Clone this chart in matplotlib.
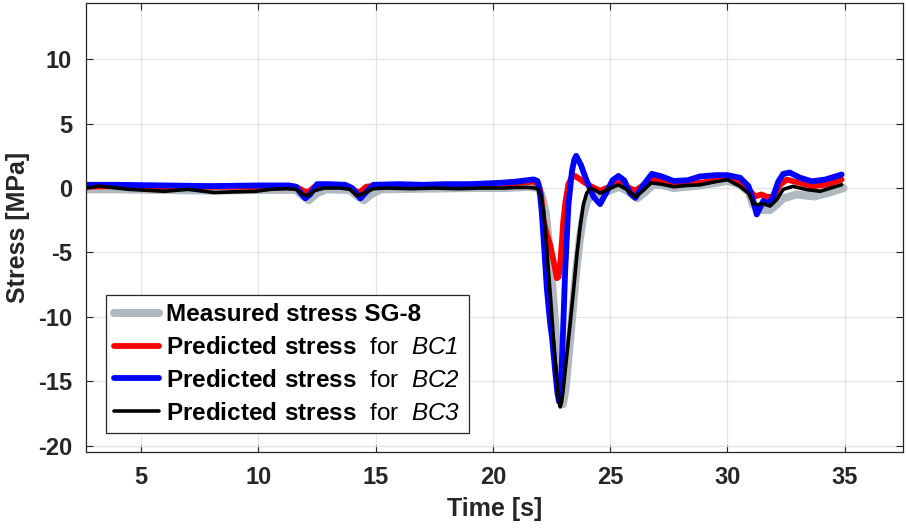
import matplotlib.pyplot as plt

plt.rcParams['font.family'] = ['Liberation Sans', 'DejaVu Sans']
plt.rcParams['axes.unicode_minus'] = False
plt.rcParams['mathtext.fontset'] = 'custom'
plt.rcParams['mathtext.rm'] = 'Liberation Sans'
plt.rcParams['mathtext.bf'] = 'Liberation Sans:bold'
plt.rcParams['mathtext.sf'] = 'Liberation Sans:italic'

# Measured stress, strain gauge SG-8
t_meas = [2.65, 4, 6, 8, 10, 11.6, 11.9, 12.15, 12.5, 12.9, 13.9, 14.2, 14.5, 14.8, 15.2,
          17, 19, 20.5, 21.5, 21.95, 22.1, 22.25, 22.4, 22.55, 22.7, 22.85, 22.98, 23.1,
          23.25, 23.4, 23.55, 23.7, 23.85, 24.0, 24.2, 24.4, 24.65, 24.95, 25.4, 25.8,
          26.15, 26.5, 26.85, 27.3, 27.7, 28.83, 29.5, 30.0, 30.5, 30.9, 31.1, 31.4,
          31.82, 32.1, 32.38, 32.95, 33.7, 34.27, 34.95]
s_meas = [-0.1, -0.1, -0.15, -0.2, -0.15, -0.15, -0.6, -0.95, -0.4, -0.1, -0.15, -0.6,
          -0.95, -0.5, -0.1, -0.05, 0.0, 0.0, 0.1, 0.0, -0.7, -1.9, -4.5, -8.0, -11.8,
          -15.0, -16.8, -15.6, -12.6, -9.5, -6.5, -4.0, -2.2, -1.1, -0.5, -0.2, -0.5,
          -0.2, 0.1, -0.3, -0.8, -0.3, 0.3, 0.2, 0.0, 0.2, 0.4, 0.55, 0.3, -0.3, -1.3,
          -1.7, -1.7, -1.3, -0.8, -0.5, -0.65, -0.4, 0.0]

# Predicted stress, BC1
t_bc1 = [2.65, 4, 6, 8, 10, 11.6, 11.9, 12.1, 12.4, 13, 13.8, 14.1, 14.3, 14.6, 15, 17,
         19, 20.3, 21, 21.72, 21.95, 22.05, 22.16, 22.3, 22.44, 22.6, 22.73, 22.8, 22.87,
         22.94, 23.0, 23.1, 23.22, 23.35, 23.5, 23.7, 23.93, 24.15, 24.57, 25.0, 25.35,
         25.7, 26.07, 26.4, 26.8, 27.3, 27.7, 28.3, 28.83, 29.5, 30.0, 30.54, 30.9,
         31.18, 31.45, 31.7, 31.97, 32.24, 32.53, 33.1, 33.6, 34.2, 34.87]
s_bc1 = [0.1, 0.15, 0.1, 0.1, 0.1, 0.1, -0.2, -0.35, 0.1, 0.25, 0.15, -0.2, -0.35, 0.1,
         0.2, 0.2, 0.25, 0.35, 0.4, 0.5, 0.3, -0.5, -2.5, -3.6, -4.4, -5.8, -7.0, -6.9,
         -5.9, -4.2, -2.6, -1.0, 0.3, 0.8, 0.94, 0.7, 0.4, 0.16, -0.2, 0.1, 0.4, 0.1,
         -0.2, 0.2, 0.7, 0.6, 0.4, 0.5, 0.4, 0.6, 0.8, 0.4, -0.1, -0.65, -0.5, -0.7,
         -0.65, 0.25, 0.65, 0.4, 0.13, 0.26, 0.65]

# Predicted stress, BC2
t_bc2 = [2.65, 4, 6, 8, 10, 11.3, 11.6, 11.85, 12.0, 12.2, 12.5, 13.0, 13.7, 14.0, 14.35,
         14.6, 14.9, 16, 17, 18, 19, 20.3, 21.0, 21.73, 21.9, 22.0, 22.08, 22.16, 22.3,
         22.44, 22.52, 22.66, 22.75, 22.82, 22.9, 22.98, 23.08, 23.22, 23.37, 23.47,
         23.55, 23.75, 24.0, 24.3, 24.57, 24.85, 25.1, 25.35, 25.6, 25.85, 26.07, 26.4,
         26.78, 27.2, 27.7, 28.3, 28.83, 29.5, 30.0, 30.54, 30.9, 31.1, 31.25, 31.4,
         31.53, 31.67, 31.9, 32.17, 32.38, 32.66, 33.1, 33.6, 34.2, 34.87]
s_bc2 = [0.25, 0.25, 0.2, 0.15, 0.2, 0.2, 0.1, -0.5, -0.8, -0.5, 0.3, 0.3, 0.25, 0.0,
         -0.8, -0.3, 0.25, 0.3, 0.25, 0.3, 0.3, 0.4, 0.5, 0.67, 0.55, -0.3, -1.8, -3.9,
         -7.8, -10.5, -11.6, -14.3, -15.9, -16.6, -15.5, -11.7, -6.5, -1.3, 1.3, 2.2,
         2.5, 1.8, 0.55, -0.7, -1.25, -0.3, 0.6, 0.94, 0.6, -0.4, -0.76, 0.2, 1.1, 0.9,
         0.55, 0.6, 0.9, 1.0, 1.0, 0.8, 0.15, -1.0, -2.05, -1.5, -1.0, -1.2, -0.9, 0.5,
         1.1, 1.2, 0.8, 0.52, 0.67, 1.05]

# Predicted stress, BC3
t_bc3 = [2.65, 3.2, 4.5, 6.0, 7.0, 8.1, 8.9, 9.9, 10.5, 11.2, 11.6, 11.9, 12.1, 12.4,
         12.8, 13.5, 13.9, 14.2, 14.5, 14.9, 15.5, 16.5, 17.5, 18.5, 19.5, 20.5, 21.0,
         21.5, 21.8, 21.93, 22.05, 22.16, 22.27, 22.37, 22.48, 22.58, 22.67, 22.75,
         22.82, 22.87, 22.93, 23.0, 23.15, 23.3, 23.45, 23.58, 23.72, 23.86, 24.0, 24.15,
         24.4, 24.57, 24.9, 25.35, 25.7, 26.07, 26.4, 26.75, 27.2, 27.7, 28.3, 28.83,
         29.5, 30.0, 30.54, 30.9, 31.1, 31.3, 31.5, 31.82, 32.1, 32.38, 32.8, 33.4,
         33.96, 34.4, 34.87]
s_bc3 = [0.0, 0.15, -0.1, -0.25, -0.1, -0.35, -0.3, -0.25, -0.1, -0.05, -0.1, -0.5,
         -0.6, -0.2, 0.0, 0.0, -0.1, -0.6, -0.4, -0.05, 0.0, -0.05, 0.0, -0.05, 0.0, 0.0,
         0.05, 0.05, 0.0, -0.1, -0.6, -1.8, -4.0, -6.5, -9.1, -11.7, -13.8, -15.6, -16.6,
         -17.0, -16.6, -15.6, -13.0, -10.4, -7.7, -5.2, -3.0, -1.25, -0.4, 0.0, -0.2,
         -0.4, -0.1, 0.25, -0.1, -0.7, -0.2, 0.4, 0.3, 0.1, 0.2, 0.25, 0.5, 0.65, 0.13,
         -0.4, -1.2, -1.3, -1.2, -1.4, -0.9, -0.1, 0.13, -0.13, -0.25, 0.0, 0.26]

fig = plt.figure(figsize=(9.06, 5.28), dpi=100)
ax = fig.add_axes([0.095, 0.144, 0.902, 0.851])

ax.plot(t_meas, s_meas, color='#b0b8c0', lw=5.8, solid_joinstyle='round',
        solid_capstyle='round', label='Measured stress SG-8')
ax.plot(t_bc1, s_bc1, color='#ff0000', lw=4.2, solid_joinstyle='round',
        solid_capstyle='round', label=r'$\mathbf{Predicted\ stress}$  for  $\mathsf{BC1}$')
ax.plot(t_bc2, s_bc2, color='#0000ff', lw=4.2, solid_joinstyle='round',
        solid_capstyle='round', label=r'$\mathbf{Predicted\ stress}$  for  $\mathsf{BC2}$')
ax.plot(t_bc3, s_bc3, color='black', lw=2.6, solid_joinstyle='round',
        solid_capstyle='round', label=r'$\mathbf{Predicted\ stress}$  for  $\mathsf{BC3}$')

ax.set_xlim(2.65, 37.5)
ax.set_ylim(-20.5, 14.4)
ax.set_xticks([5, 10, 15, 20, 25, 30, 35])
ax.set_yticks([-20, -15, -10, -5, 0, 5, 10])
ax.grid(True, color='#e3e3e3', lw=0.9)
ax.set_axisbelow(True)
ax.tick_params(direction='in', length=5, width=0.8, top=True, right=True,
               labelsize=17, colors='#262626', pad=10)
for lbl in ax.get_xticklabels() + ax.get_yticklabels():
    lbl.set_fontweight('bold')
for sp in ax.spines.values():
    sp.set_color('#262626')
    sp.set_linewidth(0.9)

ax.set_xlabel('Time [s]', fontsize=18, fontweight='bold', color='#262626', labelpad=6)
ax.set_ylabel('Stress [MPa]', fontsize=18, fontweight='bold', color='#262626', labelpad=6)

leg = ax.legend(loc='lower left', bbox_to_anchor=(0.024, 0.042), fontsize=17.5,
                frameon=True, fancybox=False, edgecolor='#262626', framealpha=1,
                handlelength=1.85, handletextpad=0.3, labelspacing=0.44,
                borderpad=0.35, borderaxespad=0.0)
leg.get_frame().set_linewidth(0.9)
leg.get_texts()[0].set_fontweight('bold')

fig.savefig('out.png', dpi=100)
